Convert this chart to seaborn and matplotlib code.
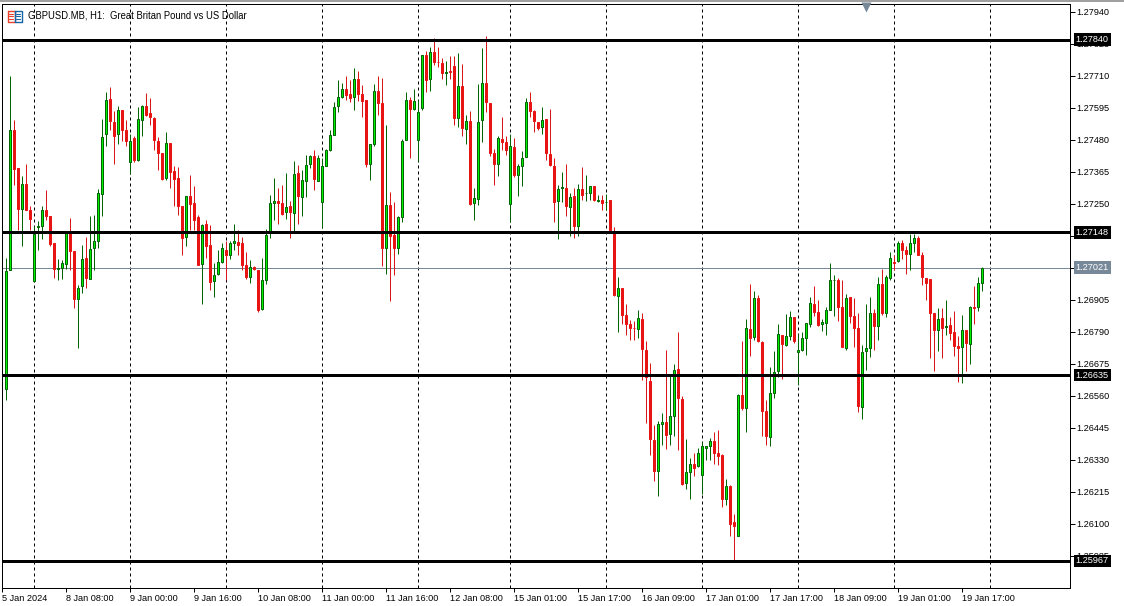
import numpy as np
import pandas as pd
import matplotlib
matplotlib.use('Agg')
import matplotlib.pyplot as plt
from matplotlib.patches import Rectangle
from matplotlib.transforms import blended_transform_factory
import seaborn as sns

# GBPUSD H1 candles, values are points above 1.25000 (1 point = 0.00001)
opens = [
    1585,2011,2517,2380,2232,2323,2230,1974,2166,2170,
    2230,2208,2111,2015,2019,2033,2154,2082,1908,1954,
    2056,1980,2090,2117,2285,2500,2628,2546,2500,2588,
    2517,2400,2487,2409,2553,2602,2577,2560,2478,2434,
    2344,2469,2368,2343,2243,2131,2280,2253,2203,2033,
    2179,2104,1972,1997,2041,2086,2068,2109,2114,2110,
    2031,1986,2023,2014,1872,1976,2149,2252,2261,2253,
    2221,2242,2216,2361,2274,2331,2392,2422,2334,2257,
    2388,2443,2497,2601,2634,2663,2646,2633,2699,2645,
    2624,2394,2464,2656,2613,2090,2246,2140,2090,2202,
    2479,2624,2590,2479,2594,2785,2698,2796,2760,2758,
    2719,2728,2746,2558,2674,2518,2548,2252,2267,2552,
    2685,2613,2433,2394,2483,2474,2249,2455,2354,2386,
    2419,2616,2584,2544,2525,2555,2429,2386,2261,2306,
    2307,2239,2279,2170,2304,2289,2289,2314,2262,2264,
    2256,2264,2153,1918,1948,1851,1819,1805,1799,1836,
    1726,1614,1403,1289,1458,1466,1422,1487,1657,1549,
    1246,1285,1317,1307,1275,1372,1379,1398,1355,1348,
    1188,1236,1107,1055,1563,1515,1801,1771,1912,1754,
    1506,1411,1569,1648,1779,1742,1774,1844,1717,1724,
    1767,1817,1892,1862,1817,1821,1868,1975,1978,1880,
    1731,1916,1847,1804,1519,1720,1731,1858,1810,1963,
    1857,1983,2043,2045,2110,2084,2069,2110,2128,2066,
    1984,1980,1858,1796,1840,1808,1815,1790,1741,1735,
    1797,1748,1880,1878,1965,
]
highs = [
    2056,2711,2553,2380,2349,2395,2241,2170,2190,2241,
    2301,2208,2111,2052,2050,2154,2201,2082,1960,2104,
    2131,2208,2211,2305,2557,2652,2672,2585,2603,2588,
    2553,2501,2493,2597,2607,2650,2630,2562,2492,2434,
    2510,2469,2388,2383,2243,2279,2355,2316,2211,2179,
    2191,2174,2038,2086,2110,2116,2116,2179,2158,2131,
    2079,2047,2028,2014,2056,2160,2283,2344,2309,2319,
    2361,2262,2406,2391,2373,2427,2427,2443,2427,2415,
    2449,2517,2616,2697,2685,2711,2697,2740,2729,2679,
    2624,2465,2681,2709,2704,2535,2294,2258,2206,2483,
    2654,2634,2663,2625,2785,2801,2814,2848,2814,2775,
    2765,2781,2781,2794,2754,2571,2585,2309,2682,2812,
    2855,2613,2447,2495,2564,2495,2503,2488,2395,2441,
    2631,2653,2589,2544,2598,2555,2592,2415,2319,2365,
    2395,2289,2307,2323,2384,2355,2314,2314,2283,2283,
    2287,2264,2168,1989,1948,1892,1834,1830,1870,1859,
    1759,1680,1457,1469,1500,1726,1630,1676,1791,1560,
    1406,1338,1356,1374,1394,1380,1410,1432,1439,1353,
    1263,1240,1137,1568,1756,1838,1963,1938,1924,1759,
    1545,1665,1723,1820,1779,1856,1866,1844,1783,1791,
    1822,1916,1956,1906,1838,1880,2039,1996,1985,1977,
    1926,1916,1913,1859,1743,1892,1917,1874,1989,2017,
    1996,2079,2066,2118,2122,2099,2143,2141,2134,2078,
    1985,1980,1858,1876,1877,1906,1845,1866,1777,1852,
    1798,1884,1956,1989,2025,
]
lows = [
    1547,2011,2319,2158,2098,2230,2155,1971,2083,2124,
    2194,2100,1984,1978,1980,2016,2011,1877,1734,1930,
    1947,1980,2014,2092,2208,2459,2517,2395,2464,2475,
    2457,2358,2402,2404,2493,2565,2535,2445,2373,2337,
    2337,2307,2241,2209,2068,2098,2158,2158,2032,1892,
    2056,1940,1914,1996,2038,1976,2053,2086,2068,2014,
    1980,1966,2011,1861,1870,1964,2126,2191,2177,2212,
    2197,2129,2146,2179,2206,2274,2378,2301,2331,2164,
    2385,2439,2497,2579,2631,2622,2615,2589,2619,2561,
    2382,2337,2457,2571,2026,1999,1900,1996,2071,2187,
    2479,2414,2589,2403,2589,2654,2655,2748,2741,2700,
    2679,2700,2535,2528,2493,2467,2247,2191,2247,2471,
    2579,2421,2319,2349,2443,2425,2184,2346,2280,2313,
    2419,2561,2507,2517,2503,2409,2385,2184,2125,2256,
    2206,2134,2126,2134,2265,2262,2265,2259,2258,2229,
    2227,2150,1918,1789,1820,1780,1762,1762,1769,1618,
    1464,1349,1255,1202,1385,1370,1382,1417,1367,1241,
    1227,1191,1273,1303,1209,1331,1329,1317,1313,1160,
    1169,1058,972,1055,1511,1432,1705,1760,1753,1417,
    1385,1381,1554,1627,1622,1741,1760,1750,1598,1723,
    1708,1807,1846,1812,1792,1778,1868,1848,1830,1735,
    1724,1822,1735,1501,1478,1654,1699,1726,1762,1852,
    1842,1978,2014,2041,2053,1999,2011,2078,2065,1960,
    1906,1698,1651,1720,1698,1780,1760,1705,1611,1608,
    1651,1676,1820,1866,1938,
]
closes = [
    2009,2517,2377,2233,2323,2230,2197,2143,2172,2230,
    2206,2106,2016,2020,2038,2154,2080,1908,1948,2052,
    1983,2089,2117,2289,2491,2624,2547,2493,2588,2515,
    2475,2476,2409,2555,2602,2571,2561,2479,2432,2341,
    2469,2364,2341,2244,2126,2279,2251,2191,2032,2174,
    2100,1971,1996,2041,2092,2065,2110,2117,2104,2032,
    1989,2023,2015,1870,1977,2140,2253,2261,2252,2215,
    2239,2220,2358,2277,2336,2390,2422,2338,2415,2386,
    2445,2498,2598,2634,2663,2643,2630,2699,2644,2619,
    2392,2465,2656,2613,2090,2246,2134,2090,2203,2476,
    2624,2591,2620,2580,2785,2694,2796,2759,2759,2719,
    2724,2723,2558,2674,2522,2548,2251,2271,2544,2685,
    2615,2432,2392,2487,2471,2443,2458,2353,2386,2415,
    2616,2583,2547,2522,2552,2432,2389,2257,2304,2311,
    2241,2275,2170,2304,2283,2291,2314,2263,2264,2252,
    2258,2155,1922,1948,1850,1817,1803,1803,1840,1727,
    1627,1404,1289,1459,1466,1418,1488,1653,1551,1245,
    1287,1315,1300,1355,1379,1380,1398,1354,1345,1188,
    1236,1099,1091,1563,1518,1804,1767,1912,1756,1505,
    1415,1571,1645,1783,1745,1775,1844,1756,1725,1768,
    1822,1894,1860,1816,1826,1869,1977,1977,1878,1735,
    1912,1846,1803,1523,1718,1732,1858,1810,1962,1857,
    1987,2056,2037,2110,2083,2069,2110,2128,2065,1986,
    1965,1857,1796,1836,1804,1811,1785,1738,1731,1797,
    1749,1880,1875,1966,2020,
]

title = 'GBPUSD.MB, H1:  Great Britan Pound vs US Dollar'
price_ticks = [1.27940, 1.27825, 1.27710, 1.27595, 1.27480, 1.27365, 1.27250, 1.27135, 1.27020,
               1.26905, 1.26790, 1.26675, 1.26560, 1.26445, 1.26330, 1.26215, 1.26100, 1.25985]
level_prices = [1.27840, 1.27148, 1.26635, 1.25967]
last_price = 1.27021
time_ticks = [-1, 15, 31, 47, 63, 79, 95, 111, 127, 143, 159, 175, 191, 207, 223, 239]
time_labels = ['5 Jan 2024', '8 Jan 08:00', '9 Jan 00:00', '9 Jan 16:00', '10 Jan 08:00',
               '11 Jan 00:00', '11 Jan 16:00', '12 Jan 08:00', '15 Jan 01:00', '15 Jan 17:00',
               '16 Jan 09:00', '17 Jan 01:00', '17 Jan 17:00', '18 Jan 09:00', '19 Jan 01:00',
               '19 Jan 17:00']
period_bars = [7, 31, 55, 79, 103, 126, 150, 174, 198, 222, 246]

BULL_FILL, BULL_EDGE = '#00F000', '#006400'
BEAR_FILL, BEAR_EDGE = '#E81414', '#D81818'
GREY = '#778899'

sns.set_theme(style='white')
plt.rcParams['font.family'] = ['Liberation Sans', 'DejaVu Sans']
plt.rcParams['font.size'] = 6.6

candles = pd.DataFrame({'bar': np.arange(len(opens)), 'open': opens, 'high': highs, 'low': lows, 'close': closes})
candles[['open', 'high', 'low', 'close']] = 1.25 + candles[['open', 'high', 'low', 'close']] * 1e-5
candles['side'] = np.where(candles['close'] >= candles['open'], 'up', 'down')

fig = plt.figure(figsize=(11.24, 6.06), dpi=100, facecolor='white')
ax = fig.add_axes([2.2 / 1124, 1 - 588.2 / 606, 1068 / 1124, 584 / 606])

# Period separators go under the candles
for b in period_bars:
    ax.axvline(b, color='black', lw=0.72, ls=(0, (3, 3)), zorder=1)

# Wicks: one two-point line per candle
wicks = candles.melt(id_vars=['bar', 'side'], value_vars=['high', 'low'], value_name='price')
sns.lineplot(data=wicks, x='bar', y='price', hue='side', units='bar', estimator=None,
             palette={'up': BULL_EDGE, 'down': BEAR_EDGE}, lw=0.72, legend=False, ax=ax, zorder=2,
             solid_capstyle='butt')

# Bodies
for side, fill, edge in [('up', BULL_FILL, BULL_EDGE), ('down', BEAR_FILL, BEAR_FILL)]:
    part = candles[candles['side'] == side]
    ax.bar(part['bar'], (part['close'] - part['open']).abs(), bottom=part[['open', 'close']].min(axis=1),
           width=0.5, facecolor=fill, edgecolor=edge, lw=0.72, zorder=3)

ax.axhline(last_price, color=GREY, lw=0.72, zorder=1.5)
for p in level_prices:
    ax.axhline(p, color='black', lw=2.16, zorder=4)

ax.set_xlim(-1, 266)
ax.set_ylim(1.25 + 869.1e-5, 1.25 + 2968e-5)
ax.set_xlabel('')
ax.set_ylabel('')

ax.yaxis.tick_right()
ax.set_yticks(price_ticks)
ax.set_yticklabels(['%.5f' % p for p in price_ticks])
ax.set_xticks(time_ticks)
ax.set_xticklabels(time_labels, ha='left')
ax.tick_params(axis='y', which='major', direction='out', length=3.3, width=0.72, pad=1.2, labelsize=6.6,
               colors='black', right=True, left=False)
ax.tick_params(axis='x', which='major', direction='out', length=3, width=0.72, pad=1.5, labelsize=6.6,
               colors='black', bottom=True)
for side in ax.spines.values():
    side.set_visible(True)
    side.set_color('black')
    side.set_linewidth(0.72)

fig.text(28 / 1124, 1 - 15.8 / 606, title, fontsize=6.85, color='black', va='center', ha='left', zorder=6)

# Price tags on the axis
tag_tf = blended_transform_factory(ax.transAxes, ax.transData)
tag_x = 1 + 5.5 / 1068
for p, bg in [(level_prices[0], 'black'), (level_prices[1], 'black'), (level_prices[2], 'black'),
              (level_prices[3], 'black'), (last_price, GREY)]:
    ax.text(tag_x, p, '%.5f' % p, transform=tag_tf, color='white', fontsize=6.6, va='center', ha='left',
            clip_on=False, zorder=8,
            bbox=dict(boxstyle='square,pad=0.2', fc=bg, ec='none'))

# Scroll marker on top edge
ax.plot([215], [0.9955], marker='v', ms=6.5, color=GREY, mec='none', clip_on=False,
        transform=blended_transform_factory(ax.transData, ax.transAxes), zorder=7)

# Window chrome at the top
fig.patches.append(Rectangle((0, 1 - 2 / 606), 1, 2 / 606, transform=fig.transFigure, fc='#A0A0A0', ec='none'))

# Chart icon in the title
icon = fig.add_axes([7 / 1124, 1 - 22 / 606, 15 / 1124, 12 / 606])
icon.set_axis_off()
icon.set_xlim(0, 15)
icon.set_ylim(12, 0)
for x0, x1, color in [(0.5, 7.5, '#E8402A'), (7.5, 14.5, '#1565A8')]:
    icon.plot([x0, x1, x1, x0, x0], [0.5, 0.5, 11.5, 11.5, 0.5], color=color, lw=1.0, clip_on=False)
    for row in [3.5, 6, 8.5]:
        icon.plot([x0 + 1.5, x1 - 1.5], [row, row], color=color, lw=0.8)

fig.savefig('out.png', dpi=100)
